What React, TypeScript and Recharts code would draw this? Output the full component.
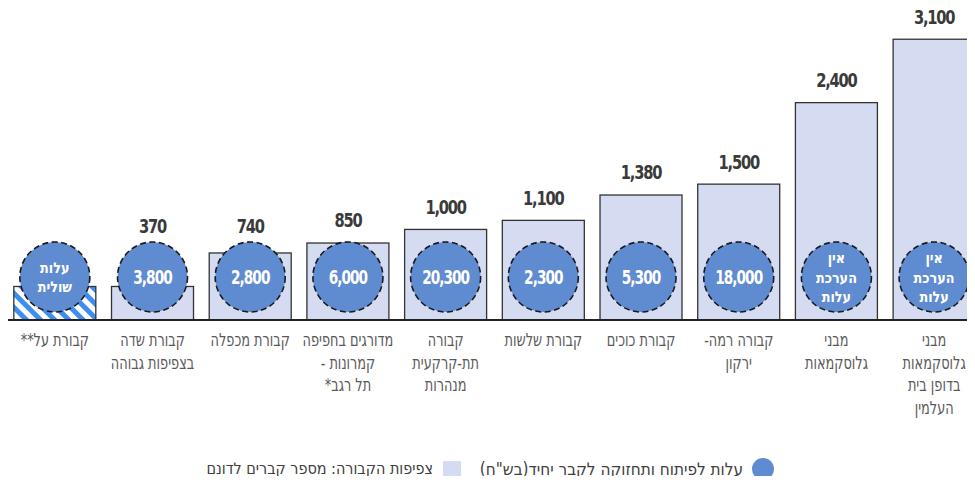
import { Bar, BarChart, LabelList, XAxis, YAxis } from "recharts";

const RLM = "\u200F";

const categoryLines: string[][] = [
    ["קבורת על**" + RLM],
    ["קבורת שדה", "בצפיפות גבוהה"],
    ["קבורת מכפלה"],
    ["מדורגים בחפיפה", "קמרונות -" + RLM, "תל רגב*" + RLM],
    ["קבורה", "תת-קרקעית", "מנהרות"],
    ["קבורת שלשות"],
    ["קבורת כוכים"],
    ["קבורה רמה-" + RLM, "ירקון"],
    ["מבני", "גלוסקמאות"],
    ["מבני", "גלוסקמאות", "בדופן בית", "העלמין"],
];

// graves per dunam
const density = [370, 370, 740, 850, 1000, 1100, 1380, 1500, 2400, 3100];
const showDensityLabel = [false, true, true, true, true, true, true, true, true, true];

// cost per grave (NIS), shown inside the circles
const costLines: string[][] = [
    ["עלות", "שולית"],
    ["3,800"],
    ["2,800"],
    ["6,000"],
    ["20,300"],
    ["2,300"],
    ["5,300"],
    ["18,000"],
    ["אין", "הערכת", "עלות"],
    ["אין", "הערכת", "עלות"],
];

const hatched = [true, false, false, false, false, false, false, false, false, false];

const data = categoryLines.map((lines, i) => ({
    name: lines.join(" "),
    density: density[i],
}));

const FONT = "'Liberation Sans Narrow', 'DejaVu Sans Condensed', 'Liberation Sans', sans-serif";
const CIRCLE_FILL = "#5f8bd0";
const BAR_FILL = "#d5dbf0";
const CIRCLE_OFFSET = 43;
const CIRCLE_R = 35;

function DensityBar(props: any) {
    const { x, y, width, height, index } = props;
    const cx = x + width / 2;
    const cy = y + height - CIRCLE_OFFSET;
    const lines = costLines[index];
    const isNumber = lines.length === 1;
    const lh = 19.5;
    return (
        <g>
            <rect
                x={x}
                y={y}
                width={width}
                height={height}
                fill={hatched[index] ? "url(#hatch)" : BAR_FILL}
                stroke="#333"
                strokeWidth={1.3}
            />
            <circle cx={cx} cy={cy} r={CIRCLE_R} fill={CIRCLE_FILL} stroke="#1a1a1a" strokeWidth={1.6} strokeDasharray="6 3.5" />
            {lines.map((t, j) => (
                <text
                    key={j}
                    x={0}
                    y={0}
                    transform={`translate(${cx},${cy + (j - (lines.length - 1) / 2) * lh}) scale(${isNumber ? 0.8 : 0.95},1)`}
                    textAnchor="middle"
                    dominantBaseline="central"
                    fill="#fff"
                    fontFamily={FONT}
                    fontWeight="bold"
                    fontSize={isNumber ? 19 : 15}
                    letterSpacing={isNumber ? -1.2 : 0}
                    direction="rtl"
                >
                    {t}
                </text>
            ))}
        </g>
    );
}

function DensityLabel(props: any) {
    const { x, y, width, height, value, index } = props;
    if (!showDensityLabel[index]) return null;
    const circleTop = y + height - CIRCLE_OFFSET - CIRCLE_R;
    const ly = Math.min(y - 22, circleTop - 15);
    return (
        <text
            x={0}
            y={0}
            transform={`translate(${x + width / 2},${ly}) scale(0.86,1)`}
            textAnchor="middle"
            dominantBaseline="central"
            fill="#3a3a3a"
            fontFamily={FONT}
            fontWeight="bold"
            fontSize={19}
            letterSpacing={-1.4}
        >
            {Number(value).toLocaleString("en-US")}
        </text>
    );
}

function CategoryTick(props: any) {
    const { x, y, payload } = props;
    const lines = categoryLines[payload.index];
    return (
        <g>
            {lines.map((t, j) => (
                <text
                    key={j}
                    x={0}
                    y={0}
                    transform={`translate(${x},${y + 20 + j * 22.5}) scale(0.82,1)`}
                    textAnchor="middle"
                    dominantBaseline="central"
                    fill="#595959"
                    fontFamily={FONT}
                    fontSize={17.5}
                    direction="rtl"
                >
                    {t}
                </text>
            ))}
        </g>
    );
}

const legendText = {
    position: "absolute" as const,
    top: 458,
    height: 22,
    lineHeight: "22px",
    fontFamily: FONT,
    color: "#404040",
    direction: "rtl" as const,
    whiteSpace: "nowrap" as const,
};

export default function App() {
    return (
        <div style={{ margin: -8, width: 975, height: 484, overflow: "hidden", position: "relative", background: "#fff" }}>
            <BarChart width={990} height={484} data={data} margin={{ top: 3, right: 7, left: 6, bottom: 64 }} barCategoryGap="8%">
                <defs>
                    <pattern id="hatch" patternUnits="userSpaceOnUse" width="10" height="10" patternTransform="rotate(-45)">
                        <rect width="10" height="10" fill="#fff" />
                        <rect width="5" height="10" fill="#3d8ef0" />
                    </pattern>
                </defs>
                <XAxis
                    dataKey="name"
                    height={100}
                    interval={0}
                    tickSize={0}
                    tickMargin={0}
                    axisLine={{ stroke: "#222", strokeWidth: 2 }}
                    tick={<CategoryTick />}
                />
                <YAxis hide domain={[0, 3500]} />
                <Bar dataKey="density" shape={<DensityBar />} isAnimationActive={false}>
                    <LabelList dataKey="density" content={<DensityLabel />} />
                </Bar>
            </BarChart>
            <div style={{ position: "absolute", left: 752, top: 458, width: 22, height: 22, borderRadius: 11, background: CIRCLE_FILL }} />
            <div style={{ ...legendText, right: 975 - 743, fontSize: 17 }}>עלות לפיתוח ותחזוקה לקבר יחיד(בש"ח)</div>
            <div style={{ position: "absolute", left: 443, top: 461, width: 18, height: 18, background: BAR_FILL }} />
            <div style={{ ...legendText, right: 975 - 433, fontSize: 16 }}>צפיפות הקבורה: מספר קברים לדונם</div>
        </div>
    );
}
